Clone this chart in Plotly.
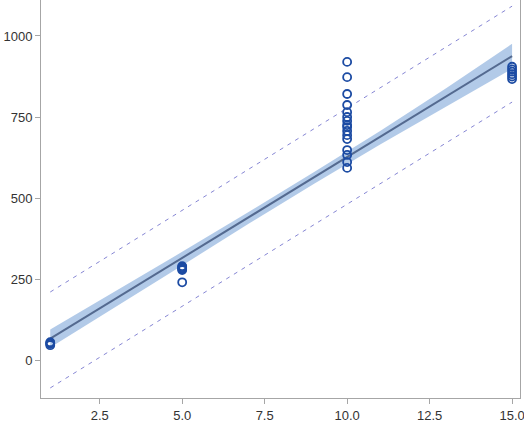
import plotly.graph_objects as go

# observed data
obs_x = [1, 1, 1, 1,
         5, 5, 5, 5, 5, 5,
         10, 10, 10, 10, 10, 10, 10, 10, 10, 10, 10, 10, 10, 10, 10, 10,
         15, 15, 15, 15, 15, 15]
obs_y = [46, 50, 53, 55,
         290, 287, 284, 281, 278, 240,
         920, 873, 821, 787, 765, 750, 738, 725, 719, 707, 694, 682, 648, 633, 611, 593,
         905, 897, 890, 882, 875, 867]

# fitted line (straight) endpoints
fit_x = [1, 15]
fit_y = [66, 938]

# confidence band, read at several x
band_x = [1, 3, 5, 7, 9, 11, 13, 15]
ci_upper = [94, 213, 334, 456, 580, 707, 839, 976]
ci_lower = [39, 165, 292, 420, 544, 665, 781, 899]

# prediction limits (straight)
pi_x = [1, 15]
pi_upper = [210, 1092]
pi_lower = [-86, 796]

fig = go.Figure()

fig.add_trace(go.Scatter(x=band_x, y=ci_lower, mode="lines", line=dict(width=0),
                         hoverinfo="skip", showlegend=False))
fig.add_trace(go.Scatter(x=band_x, y=ci_upper, mode="lines", line=dict(width=0),
                         fill="tonexty", fillcolor="rgba(170,196,230,0.9)",
                         hoverinfo="skip", showlegend=False))
fig.add_trace(go.Scatter(x=pi_x, y=pi_upper, mode="lines",
                         line=dict(color="#8686d4", width=1, dash="4px,5px"),
                         showlegend=False))
fig.add_trace(go.Scatter(x=pi_x, y=pi_lower, mode="lines",
                         line=dict(color="#8686d4", width=1, dash="4px,5px"),
                         showlegend=False))
fig.add_trace(go.Scatter(x=fit_x, y=fit_y, mode="lines",
                         line=dict(color="#546a90", width=2),
                         showlegend=False))
fig.add_trace(go.Scatter(x=obs_x, y=obs_y, mode="markers",
                         marker=dict(symbol="circle-open", size=8, color="#1c4ba3",
                                     line=dict(width=1.8, color="#1c4ba3")),
                         showlegend=False))

axis_common = dict(showgrid=False, zeroline=False, showline=True, linecolor="#a6a6a6",
                   linewidth=1, ticks="outside", ticklen=5, tickcolor="#a6a6a6",
                   ticklabeloverflow="allow",
                   tickfont=dict(family="Liberation Sans, Arial", size=13, color="#333333"))

fig.update_xaxes(range=[0.72, 15.24], tickvals=[2.5, 5, 7.5, 10, 12.5, 15],
                 ticktext=["2.5", "5.0", "7.5", "10.0", "12.5", "15.0"], **axis_common)
fig.update_yaxes(range=[-117, 1111], tickvals=[0, 250, 500, 750, 1000],
                 mirror=True, **axis_common)

fig.update_layout(width=524, height=435, margin=dict(l=41, r=4, t=0, b=37),
                  plot_bgcolor="white", paper_bgcolor="white")

fig.write_html("out.html")
